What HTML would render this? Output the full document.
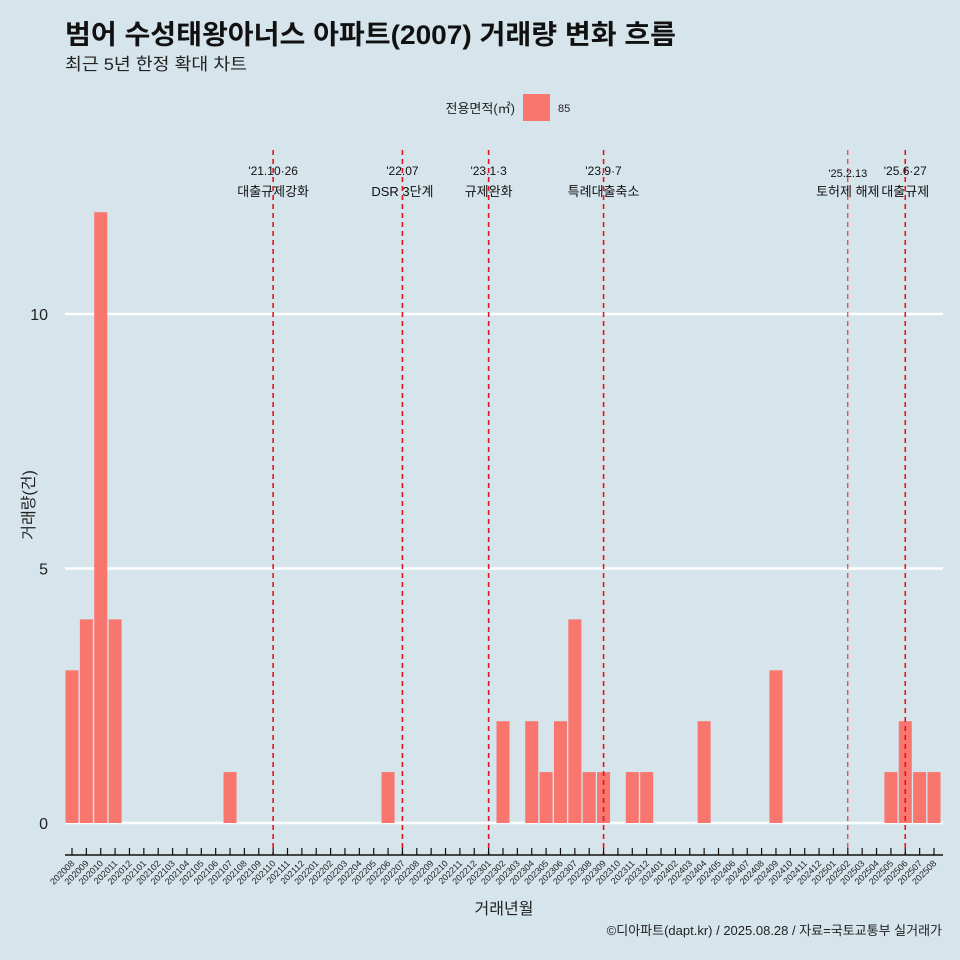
<!DOCTYPE html>
<html><head><meta charset="utf-8">
<style>
html,body{margin:0;padding:0;background:#d6e4eb;}
svg{display:block;font-family:"Liberation Sans","Noto Sans CJK KR",sans-serif;}
</style></head>
<body>
<svg id="chart" width="960" height="960" viewBox="0 0 960 960">
<rect width="960" height="960" fill="#d6e4eb"/>
<text x="65" y="44" font-size="27" font-weight="bold" fill="#111" textLength="611" lengthAdjust="spacingAndGlyphs">범어 수성태왕아너스 아파트(2007) 거래량 변화 흐름</text>
<text x="65" y="70" font-size="17" fill="#222" textLength="182" lengthAdjust="spacingAndGlyphs">최근 5년 한정 확대 차트</text>
<g>
<text x="515" y="113" font-size="13" text-anchor="end" fill="#222">전용면적(㎡)</text>
<rect x="523" y="94" width="27" height="27" fill="#f8766d"/>
<text x="558" y="112" font-size="11" fill="#222">85</text>
</g>
<g id="plot"></g>
<text transform="translate(34,505) rotate(-90)" font-size="16" text-anchor="middle" fill="#222">거래량(건)</text>
<text x="504" y="914" font-size="16" text-anchor="middle" fill="#222">거래년월</text>
<text x="942" y="935" font-size="13" text-anchor="end" fill="#222">©디아파트(dapt.kr) / 2025.08.28 / 자료=국토교통부 실거래가</text>
</svg>
<script>
const categories = [];
(function(){let y=2020,m=8;while(y<2025||(y===2025&&m<=8)){categories.push(y+String(m).padStart(2,'0'));m++;if(m>12){m=1;y++;}}})();
const barMonths = ["202008","202009","202010","202011","202107","202206","202302","202304","202305","202306","202307","202308","202309","202311","202312","202404","202409","202505","202506","202507","202508"];
const barValues = [3,4,12,4,1,1,2,2,1,2,4,1,1,1,1,2,3,1,2,1,1];
const yTicks = [0,5,10];
const eventMonths = ["202110","202207","202301","202309","202502","202506"];
const eventDates = ["'21.10·26","'22.07","'23.1·3","'23.9·7","'25.2.13","'25.6·27"];
const eventLabels = ["대출규제강화","DSR 3단계","규제완화","특례대출축소","토허제 해제","대출규제"];

const NS="http://www.w3.org/2000/svg";
const plot=document.getElementById('plot');
const x0=72, step=(934-72)/(categories.length-1);
const xs=c=>x0+categories.indexOf(c)*step;
const ys=v=>823-v*50.9;
function mk(t,a){const e=document.createElementNS(NS,t);for(const k in a)e.setAttribute(k,a[k]);plot.appendChild(e);return e;}

yTicks.forEach(v=>{
  const g=mk('line',{x1:65,x2:943,y1:ys(v),y2:ys(v),stroke:'#fff','stroke-width':2.4});
  
  
  const t=mk('text',{x:48,y:ys(v)+6,'font-size':16,'text-anchor':'end',fill:'#222'});
  t.textContent=v;
  
  
});
barMonths.forEach((c,i)=>{
  const r=mk('rect',{x:xs(c)-6.5,y:ys(barValues[i]),width:13,height:ys(0)-ys(barValues[i]),fill:'#f8766d'});
  
  
});
eventMonths.forEach((c,i)=>{
  const l=mk('line',{x1:xs(c),x2:xs(c),y1:150,y2:855,stroke:'#e8141c','stroke-width':i===4?1:1.6,'stroke-dasharray':'5,4'});
  
  
  const t1=mk('text',{x:xs(c),y:i===4?177:175,'font-size':i===4?11:12,'text-anchor':'middle',fill:'#111'});
  t1.textContent=eventDates[i];
  
  
  const t2=mk('text',{x:xs(c),y:196,'font-size':13,'text-anchor':'middle',fill:'#111'});
  t2.textContent=eventLabels[i];
  
  
});
const ax=mk('line',{x1:65,x2:943,y1:855,y2:855,stroke:'#111','stroke-width':1.5});


categories.forEach(c=>{
  const tk=mk('line',{x1:xs(c),x2:xs(c),y1:848,y2:855,stroke:'#111','stroke-width':1.2});
  
  
  const t=mk('text',{transform:`translate(${xs(c)+3},864) rotate(-45)`,'font-size':9,'text-anchor':'end',fill:'#222'});
  t.textContent=c;
  
  
});
</script>
</body></html>
